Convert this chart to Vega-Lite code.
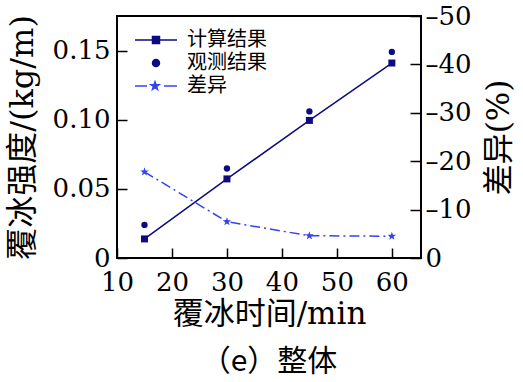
{
  "$schema": "https://vega.github.io/schema/vega-lite/v6.json",
  "autosize": {"type": "none"},
  "width": 304,
  "height": 242,
  "padding": {"left": 117, "top": 16, "right": 102, "bottom": 124},
  "background": "white",
  "config": {
    "view": {"stroke": "black", "strokeWidth": 2},
    "axis": {
      "grid": false,
      "domain": false,
      "labelFont": "DejaVu Serif",
      "labelFontSize": 26,
      "labelColor": "black",
      "labelFlush": false,
      "labelOverlap": false,
      "tickColor": "black",
      "tickWidth": 1.5,
      "titleFont": "DejaVu Serif, Noto Sans CJK SC",
      "titleFontSize": 32,
      "titleFontWeight": "normal",
      "titleColor": "black"
    }
  },
  "title": {
    "text": "（e）整体",
    "orient": "bottom",
    "anchor": "middle",
    "offset": 18,
    "font": "Noto Sans CJK SC",
    "fontSize": 30,
    "fontWeight": "normal",
    "color": "black"
  },
  "data": {
    "values": [
      {"t": 15, "calc": 0.0138, "obs": 0.0239, "diff": 17.8},
      {"t": 30, "calc": 0.0572, "obs": 0.0647, "diff": 7.5},
      {"t": 45, "calc": 0.0995, "obs": 0.106, "diff": 4.6},
      {"t": 60, "calc": 0.141, "obs": 0.149, "diff": 4.5}
    ]
  },
  "encoding": {
    "x": {
      "field": "t",
      "type": "quantitative",
      "scale": {"domain": [10, 65.3], "nice": false, "zero": false},
      "axis": {
        "title": "覆冰时间/min",
        "titleFontSize": 31,
        "values": [10, 20, 30, 40, 50, 60],
        "tickSize": -10,
        "labelPadding": 21,
        "titlePadding": 4
      }
    }
  },
  "layer": [
    {
      "layer": [
        {
          "mark": {"type": "line", "strokeWidth": 1.5, "point": {"shape": "square", "size": 49, "filled": true}},
          "encoding": {
            "y": {
              "field": "calc",
              "type": "quantitative",
              "scale": {"domain": [0, 0.175], "nice": false},
              "axis": {
                "title": "覆冰强度/(kg/m)",
                "values": [0, 0.05, 0.1, 0.15],
                "labelExpr": "datum.value == 0 ? '0' : format(datum.value, '.2f')",
                "tickSize": -10,
                "labelPadding": 17,
                "titlePadding": 13,
                "encode": {
                  "labels": {
                    "update": {"dy": {"signal": "datum.value == 0 ? -5 : 0"}}
                  }
                }
              }
            },
            "color": {
              "datum": "计算结果",
              "scale": {"domain": ["计算结果", "观测结果", "差异"], "range": ["#0c0c80", "#0c0c80", "#3344ee"]},
              "legend": {
                "orient": "none",
                "legendX": 18,
                "legendY": 14,
                "title": null,
                "padding": 0,
                "rowPadding": 3,
                "symbolSize": 100,
                "symbolOffset": 11,
                "labelOffset": 21,
                "labelFont": "Noto Sans CJK SC",
                "labelFontSize": 20,
                "labelColor": "black",
                "labelLimit": 300,
                "encode": {
                  "symbols": {
                    "update": {
                      "shape": {"signal": "datum.value == '计算结果' ? 'M-4.2,0H4.2M-0.7,-0.7H0.7V0.7H-0.7Z' : datum.value == '观测结果' ? 'M0.7,0A0.7,0.7,0,1,1,-0.7,0A0.7,0.7,0,1,1,0.7,0Z' : 'M-4.2,0H-1.8M1.6,0H4.2M-0.2,-0.85L0,-0.275L0.608,-0.263L0.123,0.105L0.3,0.688L-0.2,0.34L-0.7,0.688L-0.523,0.105L-1.008,-0.263L-0.4,-0.275Z'"},
                      "fill": {"signal": "datum.value == '差异' ? '#3344ee' : '#0c0c80'"},
                      "stroke": {"signal": "datum.value == '差异' ? '#3344ee' : '#0c0c80'"},
                      "strokeWidth": {"value": 1.5},
                      "opacity": {"value": 1}
                    }
                  }
                }
              }
            }
          }
        },
        {
          "mark": {"type": "point", "shape": "circle", "size": 40, "filled": true, "opacity": 1},
          "encoding": {
            "y": {"field": "obs", "type": "quantitative", "scale": {"domain": [0, 0.175], "nice": false}},
            "color": {"datum": "观测结果"}
          }
        }
      ]
    },
    {
      "mark": {
        "type": "line",
        "strokeWidth": 1.5,
        "strokeDash": [10, 4, 2, 4],
        "point": {"shape": "M0,-1L0.235,-0.324L0.951,-0.309L0.38,0.124L0.588,0.809L0,0.4L-0.588,0.809L-0.38,0.124L-0.951,-0.309L-0.235,-0.324Z", "size": 81, "filled": true}
      },
      "encoding": {
        "y": {
          "field": "diff",
          "type": "quantitative",
          "scale": {"domain": [0, 50], "nice": false},
          "axis": {
            "orient": "right",
            "title": "差异(%)",
            "titleFontSize": 31,
            "values": [0, 10, 20, 30, 40, 50],
            "labelExpr": "datum.value == 0 ? '0' : '–' + datum.value",
            "tickSize": -11,
            "labelPadding": 15,
            "titlePadding": 13,
            "titleAngle": 270,
            "titleBaseline": "top"
          }
        },
        "color": {"datum": "差异"}
      }
    }
  ],
  "resolve": {"scale": {"y": "independent"}}
}
